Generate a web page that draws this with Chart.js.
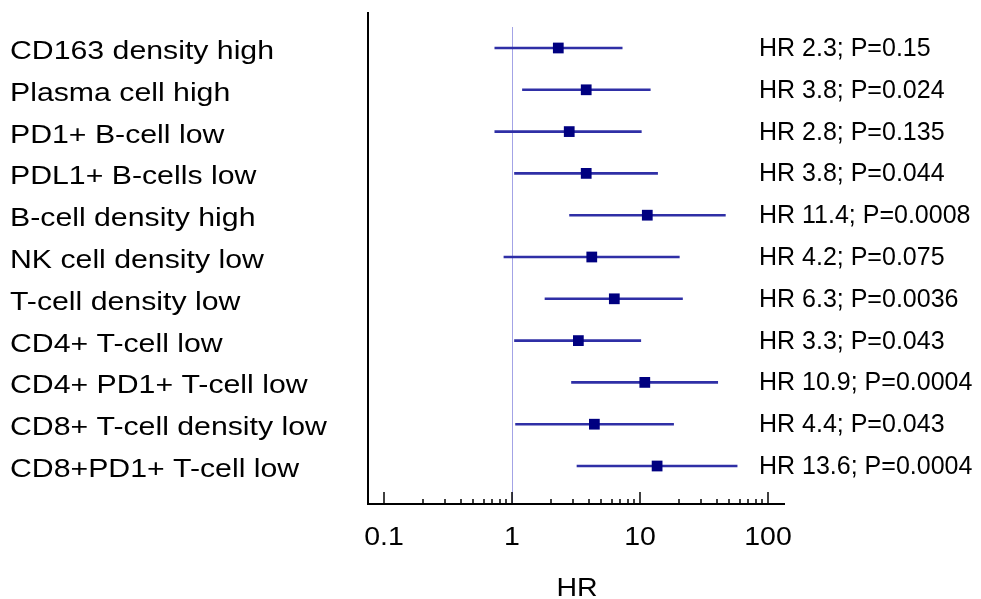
<!DOCTYPE html>
<html>
<head>
<meta charset="utf-8">
<script src="https://cdn.jsdelivr.net/npm/chart.js@4/dist/chart.umd.min.js"></script>
<style>
  html, body { margin: 0; padding: 0; background: #fff; }
</style>
</head>
<body>
<canvas id="forest" width="981" height="599"></canvas>
<script>
// rows, top to bottom
const labels = [
    "CD163 density high",
    "Plasma cell high",
    "PD1+ B-cell low",
    "PDL1+ B-cells low",
    "B-cell density high",
    "NK cell density low",
    "T-cell density low",
    "CD4+ T-cell low",
    "CD4+ PD1+ T-cell low",
    "CD8+ T-cell density low",
    "CD8+PD1+ T-cell low",
];
const hr = [2.3, 3.8, 2.8, 3.8, 11.4, 4.2, 6.3, 3.3, 10.9, 4.4, 13.6];
const ciLow = [0.73, 1.2, 0.73, 1.04, 2.8, 0.86, 1.8, 1.04, 2.9, 1.06, 3.2];
const ciHigh = [7.3, 12.1, 10.3, 13.8, 46.7, 20.4, 21.6, 10.2, 40.7, 18.4, 57.7];
const pValues = ["0.15", "0.024", "0.135", "0.044", "0.0008", "0.075", "0.0036", "0.043", "0.0004", "0.043", "0.0004"];
const xTicks = [0.1, 1, 10, 100];
const xTickLabels = ["0.1", "1", "10", "100"];
const xTitle = "HR";

const FONT = '"Liberation Sans", Arial, sans-serif';

function stretchedText(ctx, text, x, y, align, sx) {
    ctx.save();
    ctx.translate(x, y);
    ctx.scale(sx, 1);
    ctx.textAlign = align;
    ctx.textBaseline = "alphabetic";
    ctx.fillText(text, 0, 0);
    ctx.restore();
}

const forestPlugin = {
    id: "forestDecor",
    beforeDatasetsDraw(chart) {
        const ctx = chart.ctx;
        const xs = chart.scales.x;
        const x1 = Math.round(xs.getPixelForValue(1)) + 0.5;
        ctx.save();
        ctx.strokeStyle = "#a3a3e6";
        ctx.lineWidth = 1;
        ctx.beginPath();
        ctx.moveTo(x1, 27);
        ctx.lineTo(x1, chart.chartArea.bottom);
        ctx.stroke();
        ctx.restore();
    },
    afterDraw(chart) {
        const ctx = chart.ctx;
        const xs = chart.scales.x;
        const ys = chart.scales.y;
        const area = chart.chartArea;
        ctx.save();

        // axes
        ctx.strokeStyle = "#000";
        ctx.lineWidth = 2;
        ctx.beginPath();
        ctx.moveTo(area.left + 1, area.top);
        ctx.lineTo(area.left + 1, area.bottom);
        ctx.lineTo(area.right, area.bottom);
        ctx.stroke();

        // ticks pointing up into the plot
        ctx.lineWidth = 1.5;
        for (let d = -1; d <= 2; d++) {
            for (let m = 1; m <= 9; m++) {
                const v = m * Math.pow(10, d);
                if (d === 2 && m > 1) break;
                const px = Math.round(xs.getPixelForValue(v));
                const len = m === 1 ? 12 : 5;
                ctx.beginPath();
                ctx.moveTo(px, area.bottom);
                ctx.lineTo(px, area.bottom - len);
                ctx.stroke();
            }
        }

        ctx.fillStyle = "#000";
        ctx.font = "25px " + FONT;
        xTicks.forEach((v, i) => {
            stretchedText(ctx, xTickLabels[i], xs.getPixelForValue(v), 545, "center", 1.14);
        });
        stretchedText(ctx, xTitle, (xs.getPixelForValue(1) + xs.getPixelForValue(10)) / 2 + 1, 596, "center", 1.14);

        labels.forEach((lab, i) => {
            const py = ys.getPixelForValue(i);
            stretchedText(ctx, lab, 10, py + 11, "left", 1.21);
            stretchedText(ctx, "HR " + hr[i] + "; P=" + pValues[i], 759, py + 8, "left", 1.0);
        });
        ctx.restore();
    },
};

const datasets = [
    {
        label: "HR",
        data: hr.map((v, i) => ({ x: v, y: i })),
        pointStyle: "rect",
        pointRadius: 7.6,
        pointBackgroundColor: "#000080",
        pointBorderWidth: 0,
        showLine: false,
    },
];
labels.forEach((lab, i) => {
    datasets.push({
        label: lab,
        data: [{ x: ciLow[i], y: i }, { x: ciHigh[i], y: i }],
        showLine: true,
        borderColor: "#2f2fa6",
        borderWidth: 2.6,
        pointRadius: 0,
    });
});

const ctx = document.getElementById("forest").getContext("2d");
const forestChart = new Chart(ctx, {
    type: "scatter",
    data: { datasets: datasets },
    options: {
        responsive: false,
        animation: false,
        layout: {
            padding: { left: 367, right: 196, top: 12, bottom: 95 },
        },
        plugins: {
            legend: { display: false },
            tooltip: { enabled: false },
        },
        scales: {
            x: {
                type: "logarithmic",
                min: 0.0737,
                max: 135.7,
                display: false,
            },
            y: {
                type: "linear",
                min: -0.861,
                max: 10.909,
                reverse: true,
                display: false,
            },
        },
    },
    plugins: [forestPlugin],
});
</script>
</body>
</html>
